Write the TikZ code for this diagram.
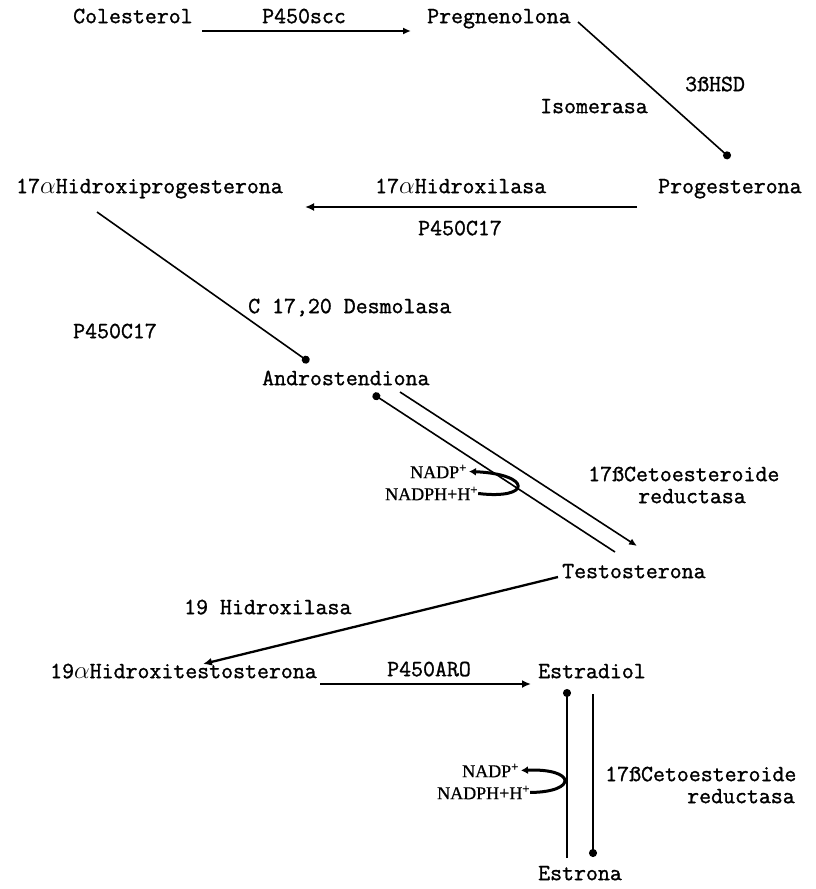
\documentclass[tikz,border=0pt]{standalone}
\usepackage{fontspec}
\newfontfamily\tw[FakeBold=1.2]{Latin Modern Mono}
\newfontfamily\sr[FakeBold=0.8]{Liberation Serif}
\usetikzlibrary{arrows.meta}
\newcommand{\alf}{\(\alpha\)}
\begin{document}
\begin{tikzpicture}[x=1pt,y=-1pt,
  lbl/.style={inner sep=0pt,anchor=mid west,font=\tw\fontsize{23.2}{26}\selectfont},
  nad/.style={inner sep=0pt,anchor=mid west,font=\sr\fontsize{18}{20}\selectfont},
  conn/.style={line width=1.6pt,-{Latex[length=8pt,width=7pt]}},
  heavy/.style={line width=2.3pt,-{Latex[length=9pt,width=8pt]}},
  dotc/.style={line width=1.6pt,-{Circle[length=8pt]}},
  curv/.style={line width=3pt,-{Latex[length=7pt,width=8pt]}}]
\useasboundingbox (0,0) rectangle (815,889);
\fill[white] (0,0) rectangle (815,889);
% nodes
\node[lbl] (cole) at (73,21) {Colesterol};
\node[lbl] (scc) at (262,21) {P450scc};
\node[lbl] (preg) at (427,21) {Pregnenolona};
\node[lbl] (hsd) at (685,89) {3ßHSD};
\node[lbl] (iso) at (540,111) {Isomerasa};
\node[lbl] (ohp) at (16,191) {17\alf Hidroxiprogesterona};
\node[lbl] (hidx) at (375,191) {17\alf Hidroxilasa};
\node[lbl] (prog) at (658,191) {Progesterona};
\node[lbl] (pcA) at (418,233) {P450C17};
\node[lbl] (desm) at (248,311) {C 17,20 Desmolasa};
\node[lbl] (pcB) at (73,336) {P450C17};
\node[lbl] (andro) at (262,383) {Androstendiona};
\node[nad] (nadpA) at (410,476) {NADP\textsuperscript{+}};
\node[nad] (nadphA) at (385,498) {NADPH+H\textsuperscript{+}};
\node[lbl] (cetoA) at (588,479) {17ßCetoesteroide};
\node[lbl] (redA) at (638,501) {reductasa};
\node[lbl] (testo) at (562,576) {Testosterona};
\node[lbl] (h19) at (184,612) {19 Hidroxilasa};
\node[lbl] (ohtest) at (50,676) {19\alf Hidroxitestosterona};
\node[lbl] (aro) at (387,674) {P450ARO};
\node[lbl] (estd) at (538,676) {Estradiol};
\node[nad] (nadpB) at (462,775) {NADP\textsuperscript{+}};
\node[nad] (nadphB) at (437,797) {NADPH+H\textsuperscript{+}};
\node[lbl] (cetoB) at (605,779) {17ßCetoesteroide};
\node[lbl] (redB) at (687,801) {reductasa};
\node[lbl] (estn) at (538,878) {Estrona};
% connector end points
\coordinate (c1a) at (202,31);  \coordinate (c1b) at (411,31);
\coordinate (c2a) at (578,22);  \coordinate (c2b) at (730,158);
\coordinate (c3a) at (637,207); \coordinate (c3b) at (305,207);
\coordinate (c4a) at (97,212);  \coordinate (c4b) at (309,362);
\coordinate (c5a) at (615,552); \coordinate (c5b) at (373,394);
\coordinate (c6a) at (400,392); \coordinate (c6b) at (637,546);
\coordinate (c7a) at (558,577); \coordinate (c7b) at (203,664);
\coordinate (c8a) at (320,684); \coordinate (c8b) at (531,684);
\coordinate (c9a) at (567,858); \coordinate (c9b) at (567,689);
\coordinate (c10a) at (593,694); \coordinate (c10b) at (593,857);
% connectors
\draw[conn] (c1a) -- (c1b);
\draw[dotc] (c2a) -- (c2b);
\draw[heavy] (c3a) -- (c3b);
\draw[dotc] (c4a) -- (c4b);
\draw[dotc] (c5a) -- (c5b);
\draw[conn] (c6a) -- (c6b);
\draw[heavy] (c7a) -- (c7b);
\draw[heavy] (c8a) -- (c8b);
\draw[dotc] (c9a) -- (c9b);
\draw[dotc] (c10a) -- (c10b);
\draw[curv] (nadphA.east) .. controls (532,500) and (532,474) .. ([xshift=2pt]nadpA.east);
\draw[curv] (nadphB.east) .. controls (578,792) and (576,768) .. ([xshift=2pt]nadpB.east);
\end{tikzpicture}
\end{document}
